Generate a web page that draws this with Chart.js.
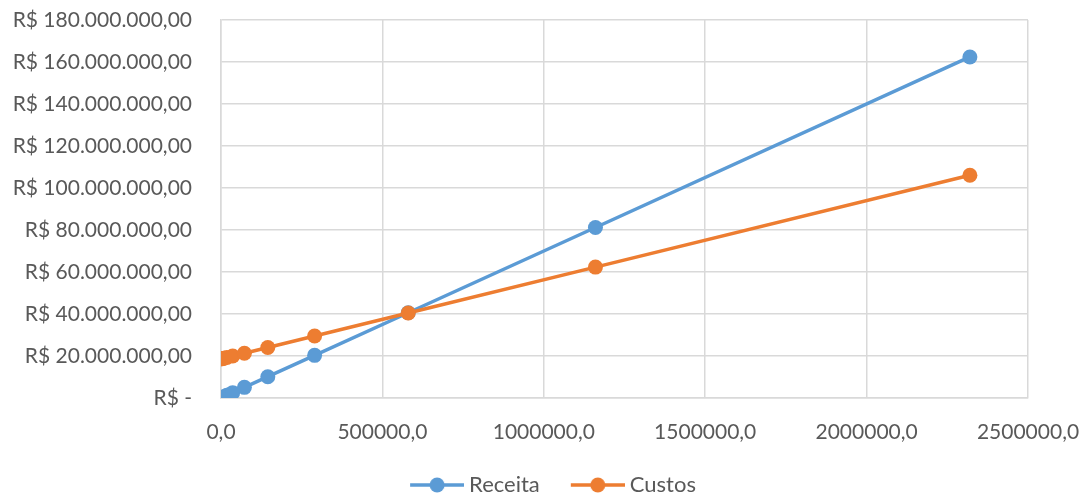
<!DOCTYPE html>
<html>
<head>
<meta charset="utf-8">
<script src="https://cdn.jsdelivr.net/npm/chart.js@4/dist/chart.umd.min.js"></script>
<style>
  html, body { margin: 0; padding: 0; background: #fff; }
  #wrap { width: 1091px; height: 500px; }
</style>
</head>
<body>
<div id="wrap"><canvas id="breakEven" width="1091" height="500"></canvas></div>
<script>
// quantidade produzida (unidades)
const quantidades = [0, 4531, 9063, 18125, 36250, 72500, 145000, 290000, 580000, 1160000, 2320000];
const receita = [0, 317000, 634000, 1269000, 2538000, 5075000, 10150000, 20300000, 40600000, 81200000, 162400000];
const custos = [18600000, 18770000, 18940000, 19280000, 19970000, 21330000, 24070000, 29530000, 40470000, 62330000, 106060000];

const xTicks = [0, 500000, 1000000, 1500000, 2000000, 2500000];
const yTicks = [0, 20000000, 40000000, 60000000, 80000000, 100000000, 120000000, 140000000, 160000000, 180000000];

const BLUE = "#5B9BD5";
const ORANGE = "#ED7D31";
const TEXT = "#595959";
const GRID = "#D9D9D9";
const FONT = "Lato, 'Open Sans', sans-serif";
const FONT_SIZE = 21;

function toPoints(xs, ys) {
  return xs.map((x, i) => ({ x, y: ys[i] }));
}

function formatReais(v) {
  if (v === 0) return "R$ -";
  const s = Math.round(v).toString().replace(/\B(?=(\d{3})+(?!\d))/g, ".");
  return "R$ " + s + ",00";
}

// legend marker: short line with a dot. The image is a bit wider than the
// legend box so the line ends close to the label; the left margin keeps
// the two items apart.
const MARKER_GAP = 25;
const MARKER_LINE = 54;
const MARKER_BOX = MARKER_GAP + MARKER_LINE;
const MARKER_OVERHANG = 6;
function legendMarker(color) {
  const c = document.createElement("canvas");
  c.width = MARKER_BOX + MARKER_OVERHANG * 2;
  c.height = 16;
  const ctx = c.getContext("2d");
  const x0 = c.width - MARKER_LINE;
  ctx.strokeStyle = color;
  ctx.lineWidth = 3.5;
  ctx.beginPath();
  ctx.moveTo(x0, 8);
  ctx.lineTo(c.width, 8);
  ctx.stroke();
  ctx.fillStyle = color;
  ctx.beginPath();
  ctx.arc(x0 + MARKER_LINE / 2, 8, 7.5, 0, Math.PI * 2);
  ctx.fill();
  return c;
}

// the right padding narrows the legend box; recentre it on the page
const legendShift = {
  id: "legendShift",
  afterLayout(chart) {
    const lg = chart.legend;
    if (!lg) return;
    const target = 550 - MARKER_GAP / 2;
    const dx = target - (lg.left + lg.right) / 2;
    lg.left += dx;
    lg.right += dx;
  },
};

const series = [
  { label: "Receita", data: toPoints(quantidades, receita), color: BLUE, order: 1 },
  { label: "Custos", data: toPoints(quantidades, custos), color: ORANGE, order: 0 },
];

new Chart(document.getElementById("breakEven"), {
  type: "scatter",
  data: {
    datasets: series.map((s) => ({
      label: s.label,
      data: s.data,
      order: s.order,
      showLine: true,
      borderColor: s.color,
      backgroundColor: s.color,
      borderWidth: 3.5,
      pointRadius: 7.5,
      pointHoverRadius: 7.5,
      pointBorderWidth: 0,
      tension: 0,
    })),
  },
  plugins: [legendShift],
  options: {
    responsive: false,
    animation: false,
    layout: { autoPadding: false, padding: { left: 0, right: 63, top: 20, bottom: -6 } },
    scales: {
      x: {
        type: "linear",
        min: 0,
        max: 2500000,
        afterBuildTicks: (axis) => { axis.ticks = xTicks.map((v) => ({ value: v })); },
        afterFit: (axis) => { axis.height = 76; },
        grid: { color: GRID, lineWidth: 1.5, drawTicks: true, tickLength: 19, tickColor: "rgba(0,0,0,0)" },
        border: { color: GRID, width: 1.5 },
        ticks: {
          color: TEXT,
          font: { family: FONT, size: FONT_SIZE },
          padding: 3,
          maxRotation: 0,
          callback: (v) => v.toFixed(1).replace(".", ","),
        },
      },
      y: {
        min: 0,
        max: 180000000,
        afterBuildTicks: (axis) => { axis.ticks = yTicks.map((v) => ({ value: v })); },
        afterFit: (axis) => { axis.width = 221; },
        grid: { color: GRID, lineWidth: 1.5, drawTicks: true, tickLength: 26, tickColor: "rgba(0,0,0,0)" },
        border: { color: GRID, width: 1.5 },
        ticks: {
          color: TEXT,
          font: { family: FONT, size: FONT_SIZE },
          padding: 3,
          callback: (v) => formatReais(v),
        },
      },
    },
    plugins: {
      tooltip: { enabled: false },
      legend: {
        position: "bottom",
        labels: {
          color: TEXT,
          font: { family: FONT, size: 22 },
          usePointStyle: true,
          pointStyleWidth: MARKER_BOX,
          boxHeight: 16,
          padding: 0,
          generateLabels: (chart) =>
            chart.data.datasets.map((ds, i) => ({
              text: ds.label,
              datasetIndex: i,
              fontColor: TEXT,
              fillStyle: ds.borderColor,
              strokeStyle: ds.borderColor,
              lineWidth: 0,
              pointStyle: legendMarker(ds.borderColor),
              hidden: !chart.isDatasetVisible(i),
            })),
        },
      },
    },
  },
});
</script>
</body>
</html>
